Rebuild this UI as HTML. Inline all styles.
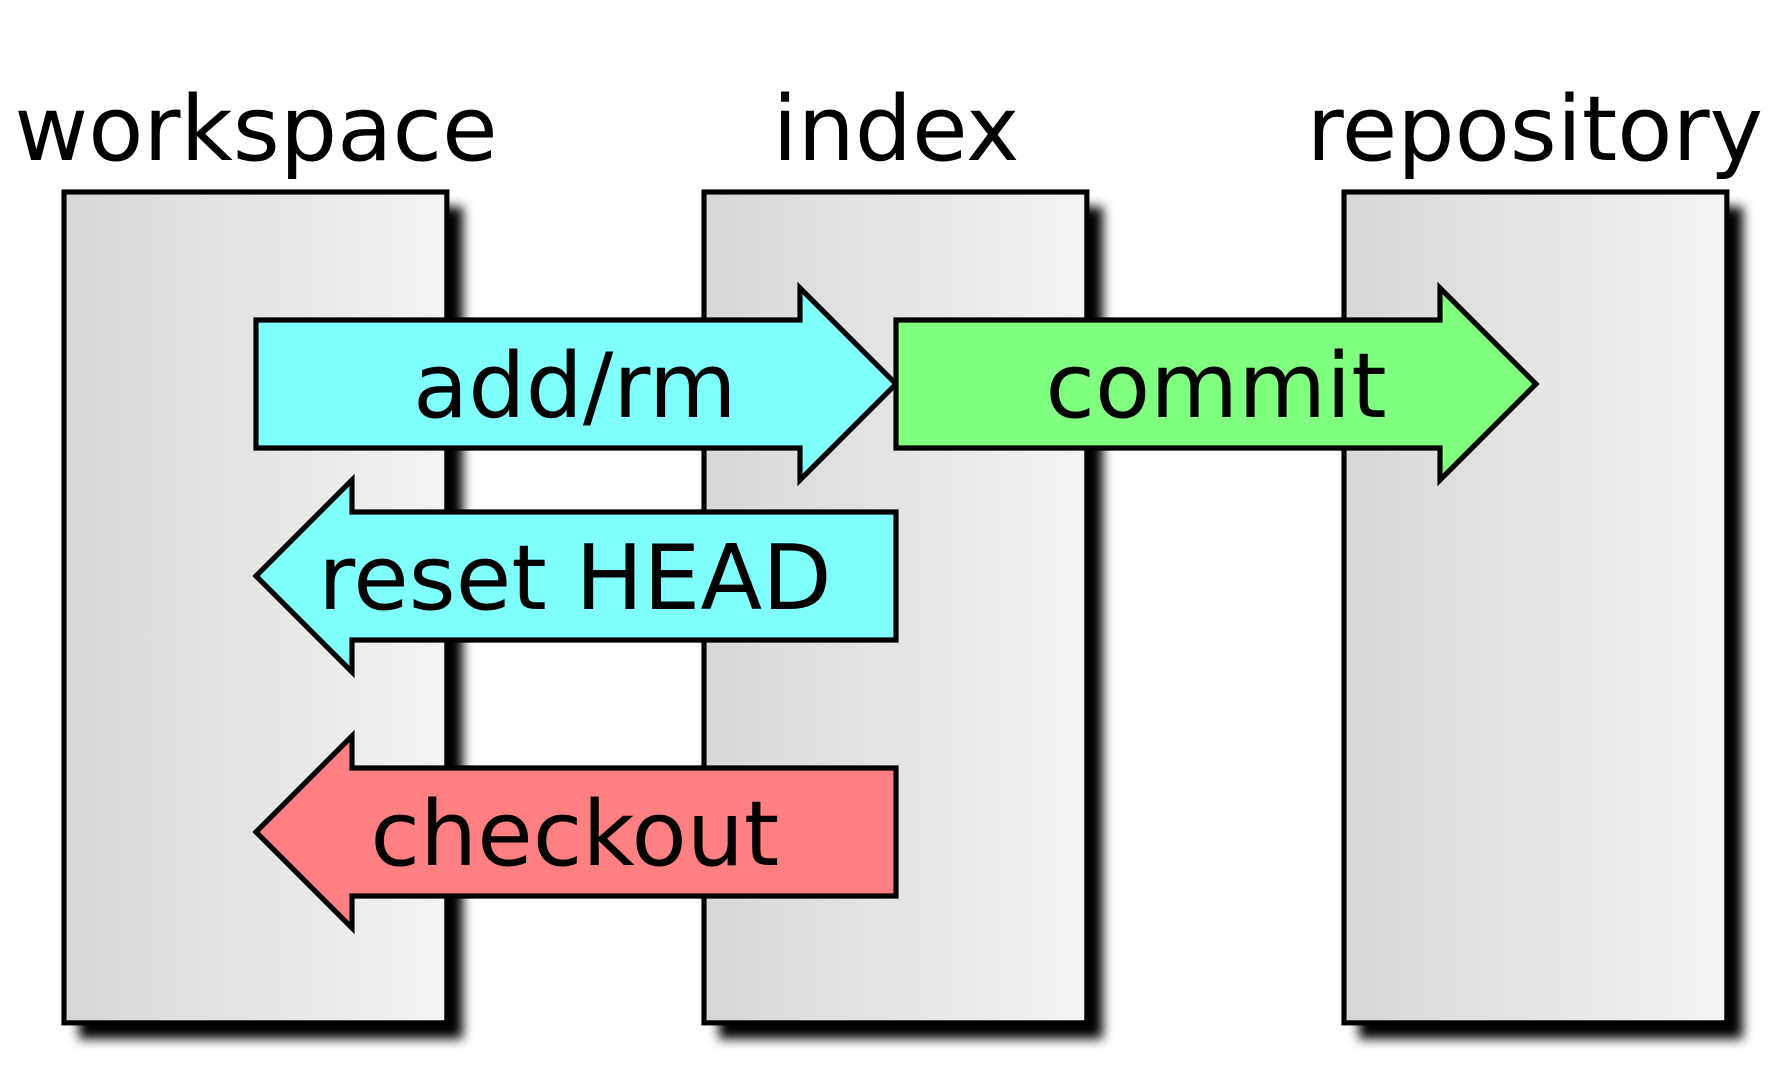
<!DOCTYPE html>
<html><head><meta charset="utf-8"><style>html,body{margin:0;padding:0;background:#fff}svg{display:block}</style></head>
<body>
<svg width="1792" height="1088" viewBox="0 0 1568 952" preserveAspectRatio="none" xmlns="http://www.w3.org/2000/svg">
<defs>
<linearGradient id="g" x1="0" x2="1" y1="0" y2="0"><stop offset="0" stop-color="#d6d6d6"/><stop offset="1" stop-color="#f4f4f4"/></linearGradient>
<filter id="b" x="-20%" y="-20%" width="140%" height="140%"><feGaussianBlur stdDeviation="5"/></filter>
</defs>
<g fill="#000" filter="url(#b)">
<rect x="69" y="181" width="336" height="728"/>
<rect x="629" y="181" width="336" height="728"/>
<rect x="1189" y="181" width="336" height="728"/>
</g>
<g fill="url(#g)" stroke="#000" stroke-width="4.5">
<rect x="56" y="168" width="335" height="727"/>
<rect x="616" y="168" width="335" height="727"/>
<rect x="1176" y="168" width="335" height="727"/>
</g>
<g font-family="DejaVu Sans, Liberation Sans, sans-serif" font-size="79" text-anchor="middle" fill="#000">
<text x="224" y="140">workspace</text>
<text x="784" y="140">index</text>
<text x="1343" y="140">repository</text>
</g>
<g stroke="#000" stroke-width="4.5" stroke-linejoin="miter">
<polygon fill="#80ffff" points="224,280 700,280 700,252 784,336 700,420 700,392 224,392"/>
<polygon fill="#80ff80" points="784,280 1260,280 1260,252 1344,336 1260,420 1260,392 784,392"/>
<polygon fill="#80ffff" points="784,448 308,448 308,420 224,504 308,588 308,560 784,560"/>
<polygon fill="#ff8080" points="784,672 308,672 308,644 224,728 308,812 308,784 784,784"/>
</g>
<g font-family="DejaVu Sans, Liberation Sans, sans-serif" font-size="79" text-anchor="middle" fill="#000">
<text x="503" y="365">add/rm</text>
<text x="1064" y="365">commit</text>
<text x="503" y="533">reset HEAD</text>
<text x="503" y="757">checkout</text>
</g>
</svg>
</body></html>
